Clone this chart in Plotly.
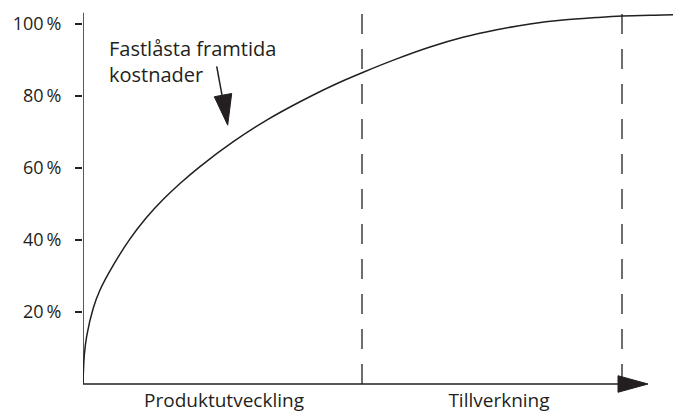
import plotly.graph_objects as go

# Curve: x in horizontal units (left axis = 0), y in percent
curve_x = [0, 1.3, 3.7, 10.3, 17, 30.3, 47, 63.7, 80.3, 97, 117, 150.3, 183.7, 217,
           250.3, 280.3, 313.7, 347, 380, 413.7, 447, 480, 513.7, 539, 580, 592]
curve_y = [0, 8.0, 13.3, 21.1, 26.1, 33.0, 40.3, 46.3, 51.3, 55.7, 60.4, 67.3, 73.3, 78.4,
           83.0, 86.6, 90.3, 93.6, 96.3, 98.4, 100, 101.1, 101.8, 102.2, 102.5, 102.6]

phase_bounds = [279, 539]          # dashed phase boundaries
phase_labels = ["Produktutveckling", "Tillverkning"]
phase_label_pos = [141, 416]
y_ticks = [20, 40, 60, 80, 100]
y_ticklabels = ["20\u2009%", "40\u2009%", "60\u2009%", "80\u2009%", "100\u2009%"]
note_text = "Fastlåsta framtida<br>kostnader"

X_MAX = 590
Y_MAX = 103.89
INK = "#231f20"
FONT = "Open Sans"


def px(x):
    return x / X_MAX


def py(y):
    return y / Y_MAX


fig = go.Figure()
fig.add_trace(go.Scatter(x=curve_x, y=curve_y, mode="lines",
                         line=dict(color=INK, width=1.5, shape="spline", smoothing=1.0),
                         hoverinfo="skip", showlegend=False))

shapes = []
# dashed boundaries
for b in phase_bounds:
    shapes.append(dict(type="line", xref="x", yref="y", x0=b, x1=b, y0=0, y1=103.3,
                       line=dict(color=INK, width=1.3, dash="20px,15px")))
# y axis line
shapes.append(dict(type="line", xref="x", yref="y", x0=0, x1=0, y0=0, y1=103.1, line=dict(color=INK, width=1.5)))
# x axis line + arrow head (paper refs so the head is not clipped)
shapes.append(dict(type="line", xref="paper", yref="paper", x0=px(0), x1=px(536), y0=py(0), y1=py(0),
                   line=dict(color=INK, width=1.5)))
shapes.append(dict(type="path", xref="paper", yref="paper",
                   path=f"M {px(535)},{py(2.3)} L {px(565)},{py(0)} L {px(535)},{py(-2.3)} Z",
                   fillcolor=INK, line=dict(color=INK, width=1)))
# pointer arrow for note
shapes.append(dict(type="line", xref="x", yref="y", x0=133.7, y0=88.2, x1=139.5, y1=79.5, line=dict(color=INK, width=1.5)))
shapes.append(dict(type="path", xref="x", yref="y", path="M 131.3,79.8 L 148.7,80.7 L 144.7,71.9 Z",
                   fillcolor=INK, line=dict(color=INK, width=1)))

fig.update_layout(
    width=673, height=414,
    margin=dict(l=83, r=0, t=10, b=30),
    paper_bgcolor="white", plot_bgcolor="white",
    font=dict(family=FONT, color=INK, size=18),
    shapes=shapes,
    annotations=[dict(x=24, y=89.5, xref="x", yref="y", text=note_text, showarrow=False,
                      xanchor="left", yanchor="middle", align="left",
                      font=dict(family=FONT, size=20, color=INK))],
    xaxis=dict(range=[0, X_MAX], showgrid=False, zeroline=False, showline=False,
               tickvals=phase_label_pos, ticktext=phase_labels, ticks="", ticklen=0,
               ticklabelstandoff=3,
               tickfont=dict(family=FONT, size=19, color=INK)),
    yaxis=dict(range=[0, Y_MAX], showgrid=False, zeroline=False, showline=False,
               tickvals=y_ticks, ticktext=y_ticklabels, ticks="outside", ticklen=7,
               ticklabelstandoff=10,
               tickwidth=1.5, tickcolor=INK, tickfont=dict(family=FONT, size=18, color=INK)),
)

fig.write_html("out.html", config={"displayModeBar": False},
               post_script="document.body.style.margin='0';document.body.style.overflow='hidden';")
